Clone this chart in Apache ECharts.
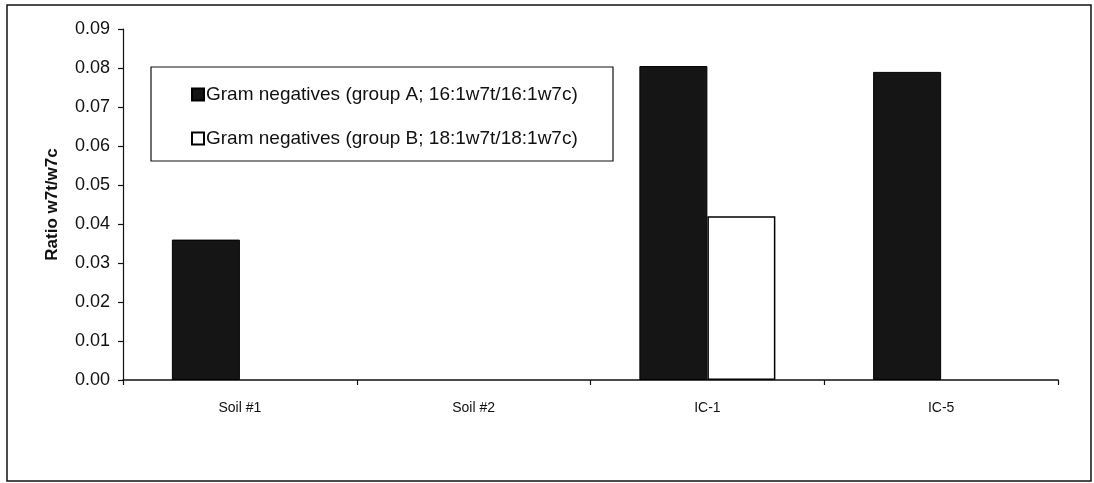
<!DOCTYPE html>
<html>
<head>
<meta charset="utf-8">
<script src="https://cdn.jsdelivr.net/npm/echarts@6/dist/echarts.min.js"></script>
<style>
html,body{margin:0;padding:0;background:#fff;}
#chart{width:1094px;height:483px;}
</style>
</head>
<body>
<div id="chart"></div>
<script>
const categories = ['Soil #1', 'Soil #2', 'IC-1', 'IC-5'];
const seriesNames = ['Gram negatives (group A; 16:1w7t/16:1w7c)', 'Gram negatives (group B; 18:1w7t/18:1w7c)'];
const groupA = [0.036, '-', 0.0805, 0.079];
const groupB = ['-', '-', 0.042, '-'];
const yTicks = { min: 0, max: 0.09, interval: 0.01 };
const yTitle = 'Ratio w7t/w7c';

const chart = echarts.init(document.getElementById('chart'), null, { renderer: 'canvas' });
const font = 'Liberation Sans, Arial, sans-serif';
chart.setOption({
  backgroundColor: '#fff',
  animation: false,
  graphic: [
    { type: 'rect', shape: { x: 7, y: 5, width: 1084, height: 476 }, style: { fill: 'none', stroke: '#111', lineWidth: 1.5 }, z: 0 },
    { type: 'rect', shape: { x: 151, y: 67, width: 462, height: 94 }, style: { fill: '#fff', stroke: '#111', lineWidth: 1.2 }, z: 5 }
  ],
  legend: {
    orient: 'vertical',
    left: 186, top: 80,
    itemGap: 25,
    icon: 'rect',
    itemWidth: 12, itemHeight: 12,
    textStyle: { fontFamily: font, fontSize: 19, color: '#111', padding: [0, 0, 0, -3] },
    data: seriesNames,
    z: 10
  },
  grid: { left: 123, right: 36, top: 29, bottom: 103 },
  xAxis: {
    type: 'category',
    data: categories,
    axisLine: { lineStyle: { color: '#111', width: 1.5 } },
    axisTick: { show: true, length: 5, lineStyle: { color: '#111', width: 1.2 } },
    axisLabel: { fontFamily: font, fontSize: 14, color: '#111', margin: 21 }
  },
  yAxis: {
    type: 'value',
    min: yTicks.min, max: yTicks.max, interval: yTicks.interval,
    name: yTitle,
    nameLocation: 'middle',
    nameRotate: 90,
    nameGap: 62,
    nameTextStyle: { fontFamily: font, fontSize: 17, fontWeight: 'bold', color: '#111' },
    axisLine: { show: true, lineStyle: { color: '#111', width: 1.2 } },
    axisTick: { show: true, length: 5, lineStyle: { color: '#111', width: 1.2 } },
    splitLine: { show: false },
    axisLabel: { fontFamily: font, fontSize: 18, color: '#111', margin: 13, formatter: v => v.toFixed(2) }
  },
  series: [
    { name: seriesNames[0], type: 'bar', data: groupA, barWidth: 68, barGap: '0%',
      itemStyle: { color: '#151515', borderColor: '#000', borderWidth: 1 } },
    { name: seriesNames[1], type: 'bar', data: groupB, barWidth: 68, barGap: '0%',
      itemStyle: { color: '#fff', borderColor: '#000', borderWidth: 1.5 } }
  ]
});
</script>
</body>
</html>
